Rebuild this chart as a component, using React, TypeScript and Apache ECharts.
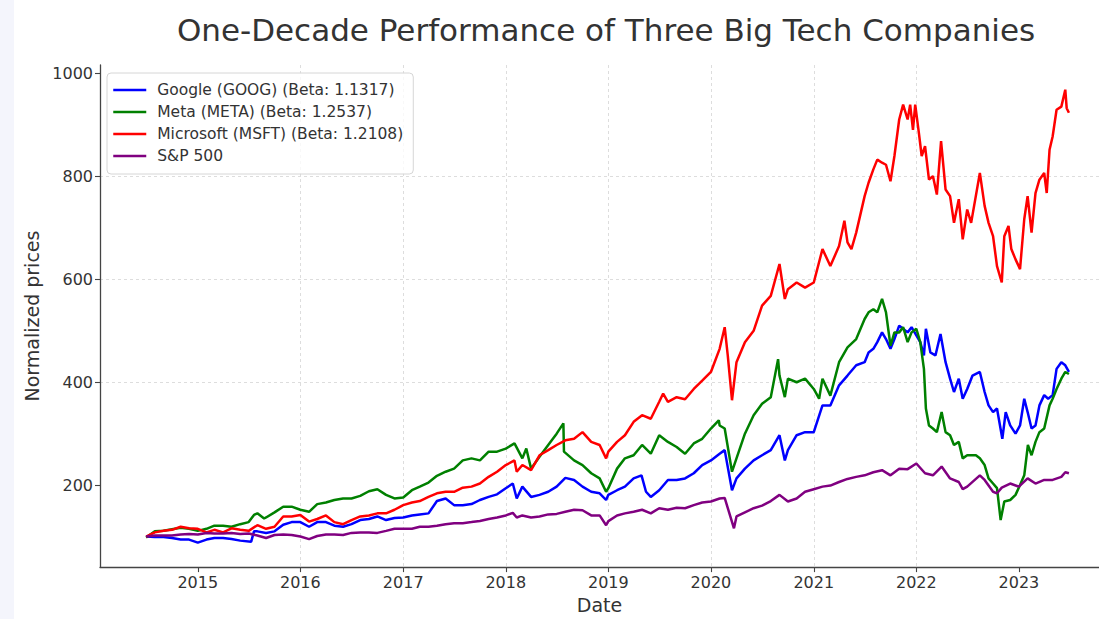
import React, { useEffect, useRef } from "react";
import * as echarts from "echarts";

type Pt = [string, number];

const seriesNames = [
  "Google (GOOG) (Beta: 1.1317)",
  "Meta (META) (Beta: 1.2537)",
  "Microsoft (MSFT) (Beta: 1.2108)",
  "S&P 500",
];

const yearTicks = ["2015", "2016", "2017", "2018", "2019", "2020", "2021", "2022", "2023"];
const yTicks = [200, 400, 600, 800, 1000];

const googleData: Pt[] = [
  ["2014-07-01",100],["2014-08-01",99],["2014-09-01",99],["2014-10-01",97],["2014-11-01",94],["2014-12-01",94],
  ["2015-01-01",88],["2015-02-01",94],["2015-03-01",97],["2015-04-01",97],["2015-05-01",95],["2015-06-01",92],
  ["2015-07-10",90],["2015-07-20",110],["2015-08-01",110],["2015-09-01",107],["2015-10-01",110],["2015-11-01",123],
  ["2015-12-01",128],["2016-01-01",128],["2016-02-01",119],["2016-03-01",128],["2016-04-01",128],["2016-05-01",121],
  ["2016-06-01",119],["2016-07-01",124],["2016-08-01",132],["2016-09-01",134],["2016-10-01",139],["2016-11-01",132],
  ["2016-12-01",136],["2017-01-01",137],["2017-02-01",141],["2017-03-01",143],["2017-04-01",145],["2017-05-01",169],
  ["2017-06-01",174],["2017-07-01",161],["2017-08-01",161],["2017-09-01",163],["2017-10-01",171],["2017-11-01",177],
  ["2017-12-01",182],["2018-01-01",194],["2018-01-26",203],["2018-02-09",174],["2018-03-01",197],["2018-04-01",177],
  ["2018-05-01",181],["2018-06-01",187],["2018-07-01",197],["2018-08-01",214],["2018-09-01",210],["2018-10-01",197],
  ["2018-11-01",187],["2018-12-01",184],["2018-12-24",171],["2019-01-01",181],["2019-02-01",190],["2019-03-01",197],
  ["2019-04-01",213],["2019-04-29",219],["2019-05-15",187],["2019-06-01",177],["2019-07-01",190],["2019-08-01",210],
  ["2019-09-01",210],["2019-10-01",213],["2019-11-01",223],["2019-12-01",239],["2020-01-01",248],["2020-02-01",261],
  ["2020-02-19",268],["2020-03-16",190],["2020-04-01",213],["2020-05-01",232],["2020-06-01",248],["2020-07-01",258],
  ["2020-08-01",268],["2020-09-01",297],["2020-09-20",248],["2020-10-01",268],["2020-11-01",297],["2020-12-01",303],
  ["2021-01-01",303],["2021-02-01",355],["2021-03-01",355],["2021-04-01",394],["2021-05-01",413],["2021-06-01",433],
  ["2021-07-01",439],["2021-07-15",458],["2021-08-01",465],["2021-08-15",478],["2021-09-01",497],["2021-09-15",484],
  ["2021-10-01",465],["2021-10-15",484],["2021-11-01",510],["2021-11-15",504],["2021-12-01",497],["2021-12-15",507],
  ["2022-01-01",491],["2022-01-15",478],["2022-01-28",452],["2022-02-04",504],["2022-02-20",458],["2022-03-10",452],
  ["2022-03-28",494],["2022-04-15",439],["2022-05-01",407],["2022-05-15",381],["2022-06-01",407],["2022-06-15",368],
  ["2022-07-01",387],["2022-07-20",413],["2022-08-15",420],["2022-09-01",381],["2022-09-15",355],["2022-10-01",342],
  ["2022-10-15",349],["2022-11-03",290],["2022-11-15",342],["2022-12-01",316],["2022-12-20",300],["2023-01-05",316],
  ["2023-01-20",368],["2023-02-01",342],["2023-02-15",310],["2023-03-01",316],["2023-03-15",355],["2023-04-01",375],
  ["2023-04-15",368],["2023-05-01",375],["2023-05-15",426],["2023-06-01",439],["2023-06-15",433],["2023-06-28",420],
];

const metaData: Pt[] = [
  ["2014-07-01",98],["2014-08-01",110],["2014-09-01",111],["2014-10-01",114],["2014-11-01",117],["2014-12-01",115],
  ["2015-01-01",111],["2015-02-01",115],["2015-03-01",121],["2015-04-01",121],["2015-05-01",119],["2015-06-01",124],
  ["2015-07-01",128],["2015-07-20",142],["2015-08-01",145],["2015-08-25",135],["2015-09-01",137],["2015-10-01",147],
  ["2015-11-01",158],["2015-12-01",158],["2016-01-01",152],["2016-02-01",148],["2016-03-01",163],["2016-04-01",166],
  ["2016-05-01",171],["2016-06-01",174],["2016-07-01",174],["2016-08-01",179],["2016-09-01",188],["2016-10-01",192],
  ["2016-11-01",181],["2016-12-01",174],["2017-01-01",176],["2017-02-01",190],["2017-03-01",197],["2017-04-01",205],
  ["2017-05-01",218],["2017-06-01",226],["2017-07-01",232],["2017-08-01",248],["2017-09-01",252],["2017-10-01",248],
  ["2017-11-01",265],["2017-12-01",265],["2018-01-01",271],["2018-02-01",281],["2018-03-01",252],["2018-03-15",271],
  ["2018-04-01",232],["2018-05-01",255],["2018-06-01",278],["2018-07-01",300],["2018-07-25",320],["2018-07-27",265],
  ["2018-09-01",248],["2018-10-01",239],["2018-11-01",223],["2018-12-01",213],["2018-12-24",187],["2019-01-01",194],
  ["2019-02-01",232],["2019-03-01",252],["2019-04-01",258],["2019-05-01",278],["2019-06-01",261],["2019-07-01",297],
  ["2019-08-01",284],["2019-09-01",274],["2019-10-01",261],["2019-11-01",281],["2019-12-01",290],["2020-01-01",310],
  ["2020-01-29",326],["2020-02-01",316],["2020-02-19",310],["2020-03-16",226],["2020-04-01",252],["2020-05-01",300],
  ["2020-06-01",336],["2020-07-01",358],["2020-08-01",371],["2020-08-27",445],["2020-09-01",413],["2020-09-20",371],
  ["2020-10-01",407],["2020-11-01",400],["2020-12-01",407],["2021-01-01",387],["2021-01-20",368],["2021-02-01",407],
  ["2021-03-01",374],["2021-04-01",439],["2021-05-01",468],["2021-06-01",484],["2021-07-01",523],["2021-07-15",536],
  ["2021-08-01",542],["2021-08-15",536],["2021-09-01",562],["2021-09-15",536],["2021-10-01",471],["2021-10-15",497],
  ["2021-11-01",497],["2021-11-15",507],["2021-12-01",478],["2021-12-15",497],["2022-01-01",504],["2022-01-15",478],
  ["2022-01-28",426],["2022-02-04",349],["2022-02-15",316],["2022-03-01",310],["2022-03-15",303],["2022-04-01",342],
  ["2022-04-15",303],["2022-05-01",297],["2022-05-15",278],["2022-06-01",284],["2022-06-15",252],["2022-07-01",258],
  ["2022-08-01",258],["2022-08-15",252],["2022-09-01",239],["2022-09-15",213],["2022-10-01",203],["2022-10-15",194],
  ["2022-10-28",132],["2022-11-10",168],["2022-12-01",171],["2022-12-20",181],["2023-01-05",200],["2023-01-20",219],
  ["2023-02-02",278],["2023-02-15",258],["2023-03-01",284],["2023-03-15",303],["2023-04-01",310],["2023-04-20",355],
  ["2023-05-01",368],["2023-05-15",387],["2023-06-01",407],["2023-06-15",420],["2023-06-28",416],
];

const msftData: Pt[] = [
  ["2014-07-01",100],["2014-08-01",108],["2014-09-01",111],["2014-10-01",113],["2014-11-01",119],["2014-12-01",116],
  ["2015-01-01",115],["2015-02-01",108],["2015-03-01",113],["2015-04-01",108],["2015-05-01",116],["2015-06-01",113],
  ["2015-07-01",111],["2015-08-01",122],["2015-09-01",115],["2015-10-01",119],["2015-11-01",139],["2015-12-01",139],
  ["2016-01-01",142],["2016-02-01",129],["2016-03-01",134],["2016-04-01",141],["2016-05-01",128],["2016-06-01",124],
  ["2016-07-01",132],["2016-08-01",139],["2016-09-01",141],["2016-10-01",145],["2016-11-01",145],["2016-12-01",152],
  ["2017-01-01",161],["2017-02-01",166],["2017-03-01",169],["2017-04-01",177],["2017-05-01",184],["2017-06-01",187],
  ["2017-07-01",187],["2017-08-01",195],["2017-09-01",197],["2017-10-01",203],["2017-11-01",216],["2017-12-01",226],
  ["2018-01-01",239],["2018-02-01",248],["2018-02-09",226],["2018-03-01",239],["2018-04-01",229],["2018-05-01",258],
  ["2018-06-01",268],["2018-07-01",278],["2018-08-01",287],["2018-09-01",290],["2018-10-01",303],["2018-11-01",284],
  ["2018-12-01",278],["2018-12-24",252],["2019-01-01",265],["2019-02-01",284],["2019-03-01",297],["2019-04-01",323],
  ["2019-05-01",336],["2019-06-01",329],["2019-07-01",362],["2019-07-15",378],["2019-08-01",362],["2019-09-01",371],
  ["2019-10-01",367],["2019-11-01",387],["2019-12-01",403],["2020-01-01",420],["2020-02-01",465],["2020-02-19",507],
  ["2020-03-01",452],["2020-03-16",365],["2020-04-01",439],["2020-05-01",478],["2020-06-01",500],["2020-07-01",549],
  ["2020-08-01",568],["2020-09-01",630],["2020-09-20",562],["2020-10-01",581],["2020-11-01",594],["2020-12-01",584],
  ["2021-01-01",594],["2021-02-01",659],["2021-03-01",626],["2021-04-01",665],["2021-04-20",714],["2021-05-01",672],
  ["2021-05-15",659],["2021-06-01",691],["2021-07-01",762],["2021-07-15",788],["2021-08-01",814],["2021-08-15",833],
  ["2021-09-01",827],["2021-09-15",823],["2021-10-01",791],["2021-10-15",840],["2021-11-01",911],["2021-11-15",940],
  ["2021-12-01",911],["2021-12-10",940],["2021-12-20",891],["2021-12-28",940],["2022-01-10",885],["2022-01-20",840],
  ["2022-02-01",859],["2022-02-15",794],["2022-03-01",801],["2022-03-15",765],["2022-03-30",869],["2022-04-15",775],
  ["2022-05-01",762],["2022-05-15",710],["2022-06-01",756],["2022-06-15",678],["2022-07-01",736],["2022-07-15",710],
  ["2022-08-15",807],["2022-09-01",743],["2022-09-15",710],["2022-10-01",684],["2022-10-15",626],["2022-11-01",594],
  ["2022-11-10",684],["2022-11-25",704],["2022-12-05",659],["2022-12-20",639],["2023-01-05",620],["2023-01-20",717],
  ["2023-02-01",762],["2023-02-15",691],["2023-03-01",768],["2023-03-15",794],["2023-04-01",807],["2023-04-10",768],
  ["2023-04-20",852],["2023-05-01",878],["2023-05-15",930],["2023-06-01",936],["2023-06-15",969],["2023-06-20",933],
  ["2023-06-28",924],
];

const sp500Data: Pt[] = [
  ["2014-07-01",100],["2014-08-01",102],["2014-09-01",102],["2014-10-01",102],["2014-11-01",104],["2014-12-01",105],
  ["2015-01-01",104],["2015-02-01",107],["2015-03-01",106],["2015-04-01",106],["2015-05-01",107],["2015-06-01",105],
  ["2015-07-01",106],["2015-08-01",102],["2015-09-01",97],["2015-10-01",103],["2015-11-01",104],["2015-12-01",103],
  ["2016-01-01",100],["2016-02-01",95],["2016-03-01",101],["2016-04-01",104],["2016-05-01",104],["2016-06-01",103],
  ["2016-07-01",107],["2016-08-01",108],["2016-09-01",108],["2016-10-01",107],["2016-11-01",111],["2016-12-01",115],
  ["2017-01-01",115],["2017-02-01",115],["2017-03-01",119],["2017-04-01",119],["2017-05-01",121],["2017-06-01",124],
  ["2017-07-01",126],["2017-08-01",126],["2017-09-01",128],["2017-10-01",130],["2017-11-01",134],["2017-12-01",137],
  ["2018-01-01",141],["2018-01-26",146],["2018-02-09",137],["2018-03-01",141],["2018-04-01",137],["2018-05-01",139],
  ["2018-06-01",143],["2018-07-01",144],["2018-08-01",148],["2018-09-01",152],["2018-10-01",151],["2018-11-01",141],
  ["2018-12-01",141],["2018-12-24",122],["2019-01-01",130],["2019-02-01",141],["2019-03-01",145],["2019-04-01",148],
  ["2019-05-01",152],["2019-06-01",145],["2019-07-01",155],["2019-08-01",152],["2019-09-01",156],["2019-10-01",155],
  ["2019-11-01",161],["2019-12-01",166],["2020-01-01",168],["2020-02-01",174],["2020-02-19",175],["2020-03-23",116],
  ["2020-04-01",139],["2020-05-01",147],["2020-06-01",155],["2020-07-01",160],["2020-08-01",169],["2020-09-01",181],
  ["2020-10-01",168],["2020-11-01",174],["2020-12-01",187],["2021-01-01",192],["2021-02-01",197],["2021-03-01",199],
  ["2021-04-01",206],["2021-05-01",212],["2021-06-01",216],["2021-07-01",219],["2021-08-01",225],["2021-09-01",229],
  ["2021-10-01",219],["2021-11-01",232],["2021-12-01",231],["2022-01-01",242],["2022-02-01",223],["2022-03-01",219],
  ["2022-04-01",236],["2022-05-01",213],["2022-06-01",206],["2022-06-15",192],["2022-07-01",197],["2022-08-15",219],
  ["2022-09-01",210],["2022-10-01",187],["2022-10-15",184],["2022-11-01",195],["2022-12-01",203],["2023-01-01",197],
  ["2023-02-01",213],["2023-03-01",203],["2023-04-01",210],["2023-05-01",210],["2023-06-01",216],["2023-06-15",225],
  ["2023-06-28",223],
];

const seriesColors = ["#0000ff", "#008000", "#ff0000", "#800080"];
const FONT = "DejaVu Sans";

const ts = (d: string) => new Date(`${d}T00:00:00`).getTime();

export default function App() {
  const ref = useRef<HTMLDivElement>(null);
  useEffect(() => {
    if (!ref.current) return;
    const chart = echarts.init(ref.current, undefined, { renderer: "svg" });
    const yearTs = yearTicks.map((y) => ts(`${y}-01-01`));
    const allData = [googleData, metaData, msftData, sp500Data];
    chart.setOption({
      animation: false,
      backgroundColor: "#ffffff",
      textStyle: { fontFamily: FONT },
      title: {
        text: "One-Decade Performance of Three Big Tech Companies",
        left: 601,
        top: 9,
        textAlign: "center",
        textStyle: { fontFamily: FONT, fontSize: 31, fontWeight: "normal", color: "#333333" },
      },
      graphic: [
        { type: "rect", left: 0, top: 0, shape: { x: 0, y: 0, width: 14, height: 619 }, style: { fill: "#f4f5fc" }, z: -10 },
      ],
      legend: {
        orient: "vertical",
        left: 107,
        top: 73,
        data: seriesNames,
        itemWidth: 33,
        itemHeight: 14,
        itemGap: 6,
        padding: [9, 10, 10, 5],
        borderColor: "#d6d6d6",
        borderWidth: 1,
        borderRadius: 4,
        backgroundColor: "rgba(255,255,255,0.8)",
        itemStyle: { opacity: 0 },
        lineStyle: { width: 2.5 },
        textStyle: { fontFamily: FONT, fontSize: 15.5, color: "#333333", padding: [0, 0, 0, 6] },
      },
      grid: { left: 100, right: 0, top: 65, bottom: 50, containLabel: false },
      xAxis: {
        type: "value",
        min: ts("2014-01-18"),
        max: ts("2023-10-13"),
        name: "Date",
        nameLocation: "middle",
        nameGap: 27,
        nameTextStyle: { fontFamily: FONT, fontSize: 19, color: "#333333" },
        axisLine: { show: true, lineStyle: { color: "#444444", width: 1.3 } },
        axisTick: { show: true, length: 5, lineStyle: { color: "#444444", width: 1.1 }, customValues: yearTs },
        axisLabel: {
          customValues: yearTs,
          margin: 7,
          fontFamily: FONT,
          fontSize: 16,
          color: "#333333",
          formatter: (v: number) => String(new Date(v).getFullYear()),
        },
        splitLine: { show: true, showMinLine: false, showMaxLine: false, lineStyle: { color: "#dddddd", type: [3, 3], width: 1 } },
      },
      yAxis: {
        type: "value",
        min: 40.5,
        max: 1017,
        name: "Normalized prices",
        nameLocation: "middle",
        nameGap: 52,
        nameRotate: 90,
        nameTextStyle: { fontFamily: FONT, fontSize: 19, color: "#333333" },
        axisLine: { show: true, lineStyle: { color: "#444444", width: 1.3 } },
        axisTick: { show: true, length: 5, lineStyle: { color: "#444444", width: 1.1 }, customValues: yTicks },
        axisLabel: {
          customValues: yTicks,
          margin: 7,
          fontFamily: FONT,
          fontSize: 16,
          color: "#333333",
          formatter: (v: number) => String(v),
        },
        splitLine: { show: true, showMinLine: false, showMaxLine: false, lineStyle: { color: "#dddddd", type: [3, 3], width: 1 } },
      },
      series: allData.map((d, i) => ({
        name: seriesNames[i],
        type: "line",
        data: d.map(([t, v]) => [ts(t), v]),
        showSymbol: false,
        symbol: "none",
        lineStyle: { color: seriesColors[i], width: 2.5 },
        itemStyle: { color: seriesColors[i] },
        emphasis: { disabled: true },
      })),
    });
    return () => chart.dispose();
  }, []);
  return <div ref={ref} style={{ position: "absolute", left: 0, top: 0, width: 1099, height: 619 }} />;
}
